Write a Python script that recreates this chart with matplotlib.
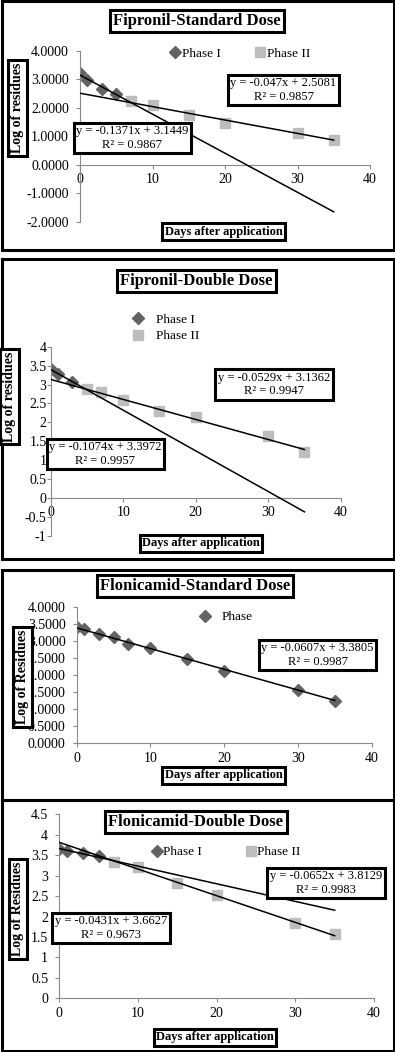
import numpy as np
import matplotlib.pyplot as plt
from matplotlib.patches import Rectangle
from matplotlib.ticker import FormatStrFormatter, MultipleLocator

plt.rcParams['font.family'] = ['Liberation Serif', 'DejaVu Serif']

W, H = 395, 1052
DARK = '#636363'
LIGHT = '#bdbdbd'
AXC = '#8a8a8a'

# Fipronil - standard dose
fs_x1 = [0, 1, 3, 5]
fs_y1 = [3.20, 2.97, 2.66, 2.47]
fs_x2 = [7, 10, 15, 20, 30, 35]
fs_y2 = [2.22, 2.10, 1.75, 1.45, 1.10, 0.88]
fs_fit1 = (-0.1371, 3.1449, 0.9867)
fs_fit2 = (-0.047, 2.5081, 0.9857)

# Fipronil - double dose
fd_x1 = [0, 1, 3]
fd_y1 = [3.42, 3.27, 3.08]
fd_x2 = [5, 7, 10, 15, 20, 30, 35]
fd_y2 = [2.87, 2.81, 2.59, 2.29, 2.14, 1.64, 1.23]
fd_fit1 = (-0.1074, 3.3972, 0.9957)
fd_fit2 = (-0.0529, 3.1362, 0.9947)

# Flonicamid - standard dose
ls_x = [0, 1, 3, 5, 7, 10, 15, 20, 30, 35]
ls_y = [3.40, 3.35, 3.19, 3.10, 2.91, 2.80, 2.46, 2.13, 1.56, 1.25]
ls_fit = (-0.0607, 3.3805, 0.9987)

# Flonicamid - double dose
ld_x1 = [0, 1, 3, 5]
ld_y1 = [3.64, 3.61, 3.56, 3.48]
ld_x2 = [7, 10, 15, 20, 30, 35]
ld_y2 = [3.34, 3.20, 2.83, 2.53, 1.83, 1.57]
ld_fit1 = (-0.0431, 3.6627, 0.9673)
ld_fit2 = (-0.0652, 3.8129, 0.9983)

fig = plt.figure(figsize=(W / 100, H / 100), dpi=100)


def fx(x):
    return x / W


def fy(y):
    return 1 - y / H


def make_axes(x0, x40, ytop, ybot, ylim, step, fmt, zero_axis=False):
    ax = fig.add_axes([fx(x0), fy(ybot), (x40 - x0) / W, (ybot - ytop) / H])
    ax.set_xlim(0, 40)
    ax.set_ylim(*ylim)
    ax.xaxis.set_major_locator(MultipleLocator(10))
    ax.yaxis.set_major_locator(MultipleLocator(step))
    ax.yaxis.set_major_formatter(FormatStrFormatter(fmt))
    for s in ['top', 'right']:
        ax.spines[s].set_visible(False)
    for s in ['left', 'bottom']:
        ax.spines[s].set_color(AXC)
        ax.spines[s].set_linewidth(0.8)
    if zero_axis:
        ax.spines['bottom'].set_position(('data', 0))
    ax.tick_params(colors=AXC, labelcolor='black', labelsize=10,
                   length=3, width=0.8, direction='out')
    ax.tick_params(axis='x', pad=3)
    ax.patch.set_alpha(0)
    return ax


def fit_line(ax, fit):
    xs = np.array([0, 35])
    ax.plot(xs, fit[0] * xs + fit[1], color='black', lw=1.1, zorder=3)


def boxed(x, y, s, size=9, bold=False, rot=0):
    fig.text(fx(x), fy(y), s, ha='center', va='center', fontsize=size,
             fontweight='bold' if bold else 'normal', rotation=rot,
             multialignment='center', zorder=10,
             bbox=dict(boxstyle='square,pad=0.2', fc='white', ec='black', lw=2.2))


def eq_text(fit):
    return f"y = {fit[0]}x + {fit[1]}\nR\u00b2 = {fit[2]}"


def legend(ax, x, y, ncol, **kw):
    ax.legend(loc='center', bbox_to_anchor=(fx(x), fy(y)),
              bbox_transform=fig.transFigure, ncol=ncol, frameon=False,
              fontsize=9.5, numpoints=1, handlelength=0.8, borderpad=0, **kw)


# panel frames
for top, bot in [(1.5, 250.5), (259.5, 558.5), (569.5, 800), (800, 1050.5)]:
    fig.add_artist(Rectangle((fx(1.5), fy(bot)), (392) / W, (bot - top) / H,
                             transform=fig.transFigure, fill=False,
                             ec='black', lw=2.2))

# ---- Fipronil standard dose
ax = make_axes(80, 370, 50.7, 221.7, (-2, 4), 1, '%.4f', zero_axis=True)
ax.tick_params(axis='y', pad=5)
ax.plot(fs_x1, fs_y1, 'D', color=DARK, ms=6, label='Phase I', zorder=2)
ax.plot(fs_x2, fs_y2, 's', color=LIGHT, ms=7, label='Phase II', zorder=2)
fit_line(ax, fs_fit1)
fit_line(ax, fs_fit2)
legend(ax, 240, 54, 2, handletextpad=0.1, columnspacing=2.6)
boxed(197, 21, 'Fipronil-Standard Dose', 12, True)
boxed(283.5, 90, eq_text(fs_fit2))
boxed(132.5, 138, eq_text(fs_fit1))
boxed(17.5, 108, 'Log of residues', 10, True, 90)
boxed(223.5, 231.5, 'Days after application', 9, True)

# ---- Fipronil double dose
ax = make_axes(50.7, 340.7, 346.7, 536, (-1, 4), 0.5, '%g', zero_axis=True)
ax.tick_params(axis='y', pad=0)
ax.plot(fd_x1, fd_y1, 'D', color=DARK, ms=6, label='Phase I', zorder=2)
ax.plot(fd_x2, fd_y2, 's', color=LIGHT, ms=7, label='Phase II', zorder=2)
fit_line(ax, fd_fit1)
fit_line(ax, fd_fit2)
legend(ax, 166, 328, 1, handletextpad=0.9, labelspacing=0.3)
boxed(196.5, 281, 'Fipronil-Double Dose', 12, True)
boxed(274, 384.5, eq_text(fd_fit2))
boxed(105.5, 454, eq_text(fd_fit1))
boxed(9.5, 396.5, 'Log of residues', 10, True, 90)
boxed(201, 543, 'Days after application', 9, True)

# ---- Flonicamid standard dose
ax = make_axes(76.7, 371.7, 606.7, 743.3, (0, 4), 0.5, '%.4f')
ax.tick_params(axis='y', pad=5)
ax.plot(ls_x, ls_y, 'D', color=DARK, ms=6, label='Phase', zorder=2)
fit_line(ax, ls_fit)
legend(ax, 226, 617, 1, handletextpad=0.9)
boxed(195, 586, 'Flonicamid-Standard Dose', 12, True)
boxed(317.5, 655, eq_text(ls_fit))
boxed(22.5, 677, 'Log of Residues', 10, True, 90)
boxed(223.5, 775, 'Days after application', 9, True)

# ---- Flonicamid double dose
ax = make_axes(59.3, 374, 814.3, 998.3, (0, 4.5), 0.5, '%g')
ax.tick_params(axis='y', pad=5)
ax.plot(ld_x1, ld_y1, 'D', color=DARK, ms=6, label='Phase I', zorder=2)
ax.plot(ld_x2, ld_y2, 's', color=LIGHT, ms=7, label='Phase II', zorder=2)
fit_line(ax, ld_fit1)
fit_line(ax, ld_fit2)
legend(ax, 226, 852, 2, handletextpad=0.1, columnspacing=3.3)
boxed(196, 822, 'Flonicamid-Double Dose', 12, True)
boxed(326, 883, eq_text(ld_fit2))
boxed(111, 928, eq_text(ld_fit1))
boxed(18, 909, 'Log of Residues', 10, True, 90)
boxed(215, 1037, 'Days after application', 9, True)

fig.savefig('out.png', dpi=100)
